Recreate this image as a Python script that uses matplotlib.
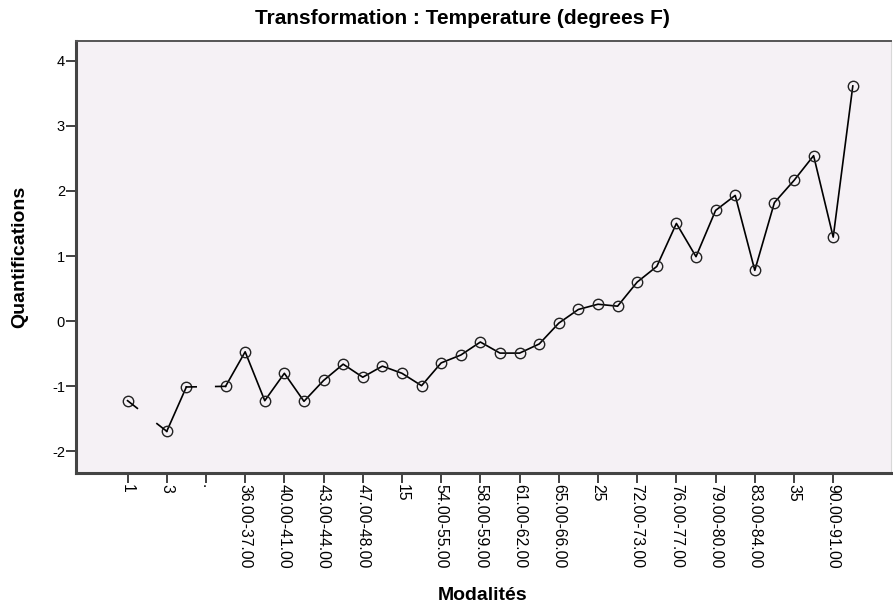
import numpy as np
import matplotlib
matplotlib.use("Agg")
from matplotlib import pyplot as plt

plt.rcParams['font.family'] = ['Liberation Sans', 'DejaVu Sans']

# quantification per category (nan = category with no estimate)
quant = [-1.22, np.nan, -1.69, -1.01, np.nan, -1.00, -0.47, -1.22, -0.80, -1.23,
         -0.91, -0.66, -0.86, -0.69, -0.80, -0.99, -0.64, -0.52, -0.32, -0.49,
         -0.49, -0.35, -0.03, 0.18, 0.26, 0.23, 0.60, 0.84, 1.50, 0.99,
         1.70, 1.93, 0.78, 1.82, 2.16, 2.54, 1.29, 3.61]

# every other category gets a label
tick_labels = ['1', '3', '.', '36.00-37.00', '40.00-41.00', '43.00-44.00',
               '47.00-48.00', '15', '54.00-55.00', '58.00-59.00', '61.00-62.00',
               '65.00-66.00', '25', '72.00-73.00', '76.00-77.00', '79.00-80.00',
               '83.00-84.00', '35', '90.00-91.00']
yticks = [-2, -1, 0, 1, 2, 3, 4]

y = np.array(quant, dtype=float)
x = np.arange(len(y))

fig = plt.figure(figsize=(8.93, 6.10), dpi=100)
ax = fig.add_axes([0.0851, 0.2246, 0.9127, 0.7082])
ax.set_facecolor('#f5f1f5')

ax.plot(x, y, color='black', lw=1.2, marker='o', ms=7.5,
        mfc='none', mec='#222222', mew=1.0, zorder=3)

# short stubs either side of a missing category
for k in np.where(np.isnan(y))[0]:
    a, b = k - 1, k + 1
    f = 0.25
    ax.plot([x[a], x[a] + f * (x[b] - x[a])], [y[a], y[a] + f * (y[b] - y[a])],
            color='black', lw=1.2, zorder=3)
    ax.plot([x[b], x[b] - f * (x[b] - x[a])], [y[b], y[b] - f * (y[b] - y[a])],
            color='black', lw=1.2, zorder=3)

ax.set_xlim(-2.63, 38.95)
ax.set_ylim(-2.33, 4.30)

ax.set_xticks(x[::2][:len(tick_labels)])
ax.set_xticklabels(tick_labels, rotation=270, fontsize=11.3, va='top', ha='center')
ax.set_yticks(yticks)
ax.set_yticklabels([str(v) for v in yticks], fontsize=10.5)
ax.tick_params(axis='both', direction='out', length=7, width=1.3, color='#333333', pad=1)

for side in ['left', 'bottom']:
    ax.spines[side].set_linewidth(2.2)
    ax.spines[side].set_color('#444444')
ax.spines['top'].set_linewidth(1.4)
ax.spines['top'].set_color('#555555')
ax.spines['right'].set_linewidth(0.8)
ax.spines['right'].set_color('#d8d8d8')

fig.text(462 / 893, 1 - 18 / 610, 'Transformation : Temperature (degrees F)',
         ha='center', va='center', fontsize=15, fontweight='bold')
fig.text(483 / 893, 1 - 595 / 610, 'Modalités', ha='center', va='center',
         fontsize=14, fontweight='bold')
fig.text(20 / 893, 1 - 257 / 610, 'Quantifications', ha='center', va='center',
         rotation=90, fontsize=14, fontweight='bold')

fig.savefig('out.png', dpi=100)
